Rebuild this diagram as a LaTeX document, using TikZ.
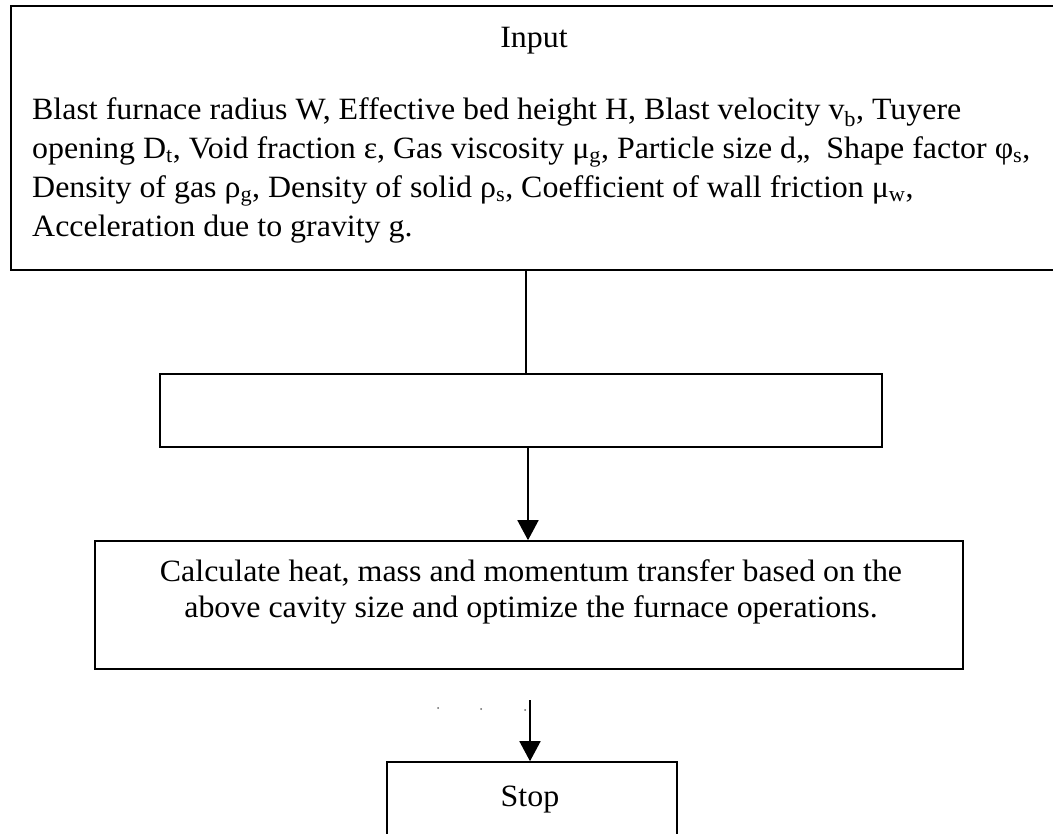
\documentclass[tikz,border=0pt]{standalone}
\usepackage{fontspec}
\setmainfont{Liberation Serif}[FakeStretch=1.03]
\usetikzlibrary{arrows.meta}
\tikzset{
  box/.style={draw, line width=1.6pt, inner sep=0pt},
  txt/.style={inner sep=0pt, font=\fontsize{31}{39}\selectfont},
  link/.style={line width=1.6pt},
  arr/.style={line width=1.6pt, -{Triangle[width=21pt,length=20pt]}},
  speck/.style={fill=black!60, draw=none, circle, inner sep=0pt, minimum size=2pt}
}
\begin{document}
\begin{tikzpicture}[x=1pt,y=-1pt]
\useasboundingbox (0,0) rectangle (1053,834);
% boxes
\node[box, minimum width=1049pt, minimum height=264pt] (top) at (535.5,138) {};
\node[box, minimum width=722pt, minimum height=73pt] (mid) at (521,410.5) {};
\node[box, minimum width=868pt, minimum height=128pt] (calc) at (529,605) {};
\node[box, minimum width=290pt, minimum height=140pt] (stop) at (532,832) {};
% texts
\node[txt, anchor=base] (tin) at (534,48) {Input};
\node[txt, anchor=base west, align=left] (tbody) at (32,237)
 {Blast furnace radius W, Effective bed height H, Blast velocity v\textsubscript{b}, Tuyere\\
  opening D\textsubscript{t}, Void fraction ε, Gas viscosity μ\textsubscript{g}, Particle size d,,\ \ Shape factor φ\textsubscript{s},\\
  Density of gas ρ\textsubscript{g}, Density of solid ρ\textsubscript{s}, Coefficient of wall friction μ\textsubscript{w},\\
  Acceleration due to gravity g.};
\node[txt, anchor=base, align=center, font=\fontsize{31}{36}\selectfont] (tcalc) at (531,617)
 {Calculate heat, mass and momentum transfer based on the\\
  above cavity size and optimize the furnace operations.};
\node[txt, anchor=base] (tstop) at (530,806) {Stop};
% connectors
\coordinate (x1) at (526,0);
\coordinate (x2) at (528,0);
\coordinate (x3) at (530,0);
\coordinate (s0) at (530,700);
\draw[link] (top.south -| x1) -- (mid.north -| x1);
\draw[arr] (mid.south -| x2) -- (calc.north -| x2);
\draw[arr] (s0) -- (stop.north -| x3);
% specks
\node[speck] (d1) at (438,708) {};
\node[speck] (d2) at (481,709) {};
\node[speck] (d3) at (525,710) {};
\end{tikzpicture}
\end{document}
